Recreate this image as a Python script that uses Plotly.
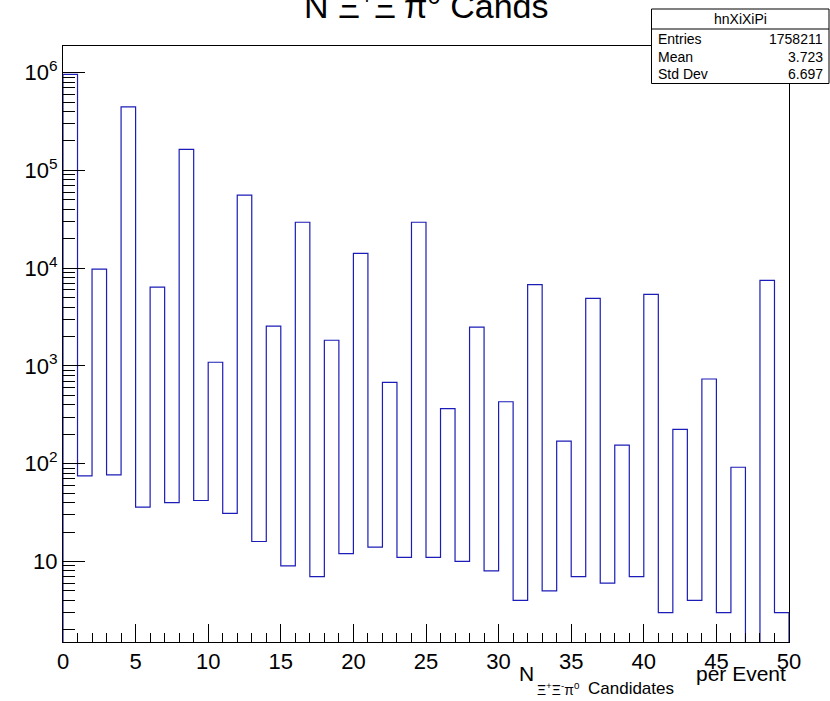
import numpy as np
import plotly.graph_objects as go

# ---- histogram contents: hnXiXiPi, 50 bins on [0, 50) ----
bin_low = list(range(0, 50))
bin_counts = [
    960000, 75, 9800, 77, 447000, 36, 6400, 40, 164000, 42,
    1090, 31, 56000, 16, 2550, 9, 29500, 7, 1830, 12,
    14200, 14, 680, 11, 29500, 11, 365, 10, 2500, 8,
    430, 4, 6800, 5, 170, 7, 4900, 6, 155, 7,
    5400, 3, 224, 4, 735, 3, 92, 0, 7500, 3,
]
stat_names = ["Entries", "Mean", "Std Dev"]
stat_values = ["1758211", "3.723", "6.697"]
hist_name = "hnXiXiPi"

y_major_vals = [10, 1e2, 1e3, 1e4, 1e5, 1e6]
y_major_text = ["10", "10<sup>2</sup>", "10<sup>3</sup>", "10<sup>4</sup>",
                "10<sup>5</sup>", "10<sup>6</sup>"]
x_major_vals = [0, 5, 10, 15, 20, 25, 30, 35, 40, 45, 50]

# ---- page geometry (pixels) ----
W, H = 830, 701
L, R, T, B = 63, 789, 46, 642


def px(x):
    return (x - L) / (R - L)


def py(y):
    return (B - y) / (B - T)


# log-scale limits in the ROOT manner
positive = [c for c in bin_counts if c > 0]
ymin = 0.5 * min(positive)
lmin = np.log10(ymin)
lmax = np.log10(max(bin_counts)) + 0.05 * (np.log10(max(bin_counts)) - lmin)

# step outline of the histogram; empty bins drop to the frame bottom
floor = ymin * 0.5
xs, ys = [bin_low[0]], [floor]
for lo, c in zip(bin_low, bin_counts):
    v = c if c > 0 else floor
    xs += [lo, lo + 1]
    ys += [v, v]
xs.append(bin_low[-1] + 1)
ys.append(floor)

fig = go.Figure()
fig.add_trace(go.Scatter(
    x=xs, y=ys, mode="lines",
    line=dict(color="#1c1cb8", width=1.2),
    hoverinfo="skip", showlegend=False,
))

# minor ticks for the log axis
y_minor = []
for d in range(0, 7):
    for k in range(2, 10):
        v = k * 10 ** d
        if lmin <= np.log10(v) <= lmax:
            y_minor.append(v)

FONT = "Liberation Sans, Arial, Helvetica, sans-serif"

fig.update_layout(
    width=W, height=H,
    margin=dict(l=L, r=W - R, t=T, b=H - B),
    paper_bgcolor="white", plot_bgcolor="white",
    font=dict(family=FONT, color="black"),
    showlegend=False,
)
fig.update_xaxes(
    range=[0, 50], showgrid=False, zeroline=False,
    showline=True, linecolor="black", linewidth=1, mirror=True,
    ticks="inside", ticklen=18, tickwidth=1, tickcolor="black",
    tickmode="array", tickvals=x_major_vals,
    tickfont=dict(size=22, family=FONT),
    minor=dict(ticks="inside", ticklen=9, tickwidth=1, tickcolor="black",
               dtick=1, tick0=0, showgrid=False),
)
fig.update_yaxes(
    type="log", range=[lmin, lmax], showgrid=False, zeroline=False,
    showline=True, linecolor="black", linewidth=1, mirror=True,
    ticks="inside", ticklen=22, tickwidth=1, tickcolor="black",
    tickmode="array", tickvals=y_major_vals, ticktext=y_major_text,
    tickfont=dict(size=22, family=FONT),
    minor=dict(ticks="inside", ticklen=12, tickwidth=1, tickcolor="black",
               tickmode="array", tickvals=y_minor, showgrid=False),
)

annotations = []
# title (runs off the top of the canvas)
annotations.append(dict(
    text="N Ξ<sup>+</sup>Ξ<sup>-</sup>π<sup>0</sup> Cands",
    xref="paper", yref="paper", x=px(426), y=py(27),
    xanchor="center", yanchor="bottom", showarrow=False,
    font=dict(size=34, family=FONT, color="black"),
))
# x-axis title, right aligned to the frame: N, lowered subscript, "per Event"
annotations.append(dict(
    text="N", xref="paper", yref="paper", x=px(536), y=py(660),
    xanchor="right", yanchor="top", showarrow=False,
    font=dict(size=21, family=FONT, color="black"),
))
annotations.append(dict(
    text="Ξ<sup>+</sup>Ξ<sup>-</sup>π<sup>0</sup>",
    xref="paper", yref="paper", x=px(535), y=py(700),
    xanchor="left", yanchor="bottom", showarrow=False,
    font=dict(size=14, family=FONT, color="black"),
))
annotations.append(dict(
    text="Candidates",
    xref="paper", yref="paper", x=px(586), y=py(700),
    xanchor="left", yanchor="bottom", showarrow=False,
    font=dict(size=17, family=FONT, color="black"),
))
annotations.append(dict(
    text="per Event", xref="paper", yref="paper", x=px(788), y=py(660),
    xanchor="right", yanchor="top", showarrow=False,
    font=dict(size=21, family=FONT, color="black"),
))

# statistics box
bx0, bx1, by0, by1 = 651.5, 829, 9, 83.5
shapes = [
    dict(type="rect", xref="paper", yref="paper",
         x0=px(bx0), x1=px(bx1), y0=py(by1), y1=py(by0),
         line=dict(color="black", width=1), fillcolor="white", layer="above"),
    dict(type="line", xref="paper", yref="paper",
         x0=px(bx0), x1=px(bx1), y0=py(29), y1=py(29),
         line=dict(color="black", width=1), layer="above"),
]
annotations.append(dict(
    text=hist_name, xref="paper", yref="paper",
    x=px((bx0 + bx1) / 2), y=py(19), xanchor="center", yanchor="middle",
    showarrow=False, font=dict(size=14, family=FONT, color="black"),
))
row_y = [39, 57, 74]
for name, val, yy in zip(stat_names, stat_values, row_y):
    annotations.append(dict(
        text=name, xref="paper", yref="paper", x=px(656), y=py(yy),
        xanchor="left", yanchor="middle", showarrow=False,
        font=dict(size=14, family=FONT, color="black"),
    ))
    annotations.append(dict(
        text=val, xref="paper", yref="paper", x=px(825), y=py(yy),
        xanchor="right", yanchor="middle", showarrow=False,
        font=dict(size=14, family=FONT, color="black"),
    ))

fig.update_layout(annotations=annotations, shapes=shapes)
fig.write_html("out.html")
